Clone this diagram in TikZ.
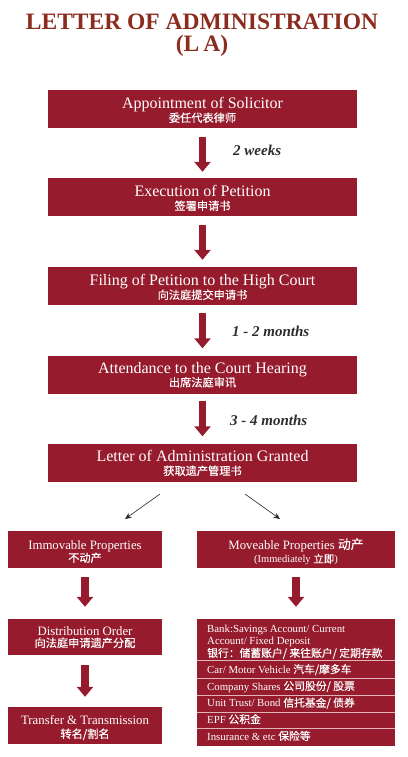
\documentclass[tikz,border=0pt]{standalone}
\usepackage{fontspec}
\setmainfont{Liberation Serif}
\newfontfamily\cjk{Noto Sans CJK SC}[FakeBold=0.4]
\usetikzlibrary{arrows.meta}
\definecolor{laRed}{RGB}{150,27,44}
\definecolor{laSep}{RGB}{225,180,186}
\definecolor{laTitle}{RGB}{139,44,30}
\definecolor{laLabel}{RGB}{45,45,45}
\begin{document}
\begin{tikzpicture}[x=1pt,y=-1pt,
  redbox/.style={fill=laRed, draw=none, inner sep=0pt, minimum width=#1},
  mainbox/.style={redbox=309pt, minimum height=38pt},
  etx/.style={text=white, inner sep=0pt, anchor=base, font=\fontsize{16}{16}\selectfont},
  ctx/.style={text=white, inner sep=0pt, anchor=base, font=\cjk\fontsize{11.2}{11.2}\selectfont},
  setx/.style={text=white, inner sep=0pt, anchor=base, font=\fontsize{12.8}{12.8}\selectfont},
  listtx/.style={text=white, inner sep=0pt, anchor=base west, font=\fontsize{10.8}{10.8}\selectfont},
  durlabel/.style={text=laLabel, inner sep=0pt, anchor=base west, font=\fontsize{15}{15}\selectfont\bfseries\itshape},
  bigarr/.style={draw=laRed, line width=7.5pt, -{Triangle[width=16pt,length=10pt]}},
  thinarr/.style={draw=black!85, line width=0.6pt, -{Stealth[width=5.5pt,length=6.5pt]}},
  sepline/.style={draw=laSep, line width=0.9pt},
  titletx/.style={text=laTitle, inner sep=0pt, anchor=base, font=\fontsize{23.5}{23.5}\selectfont\bfseries}
]
\useasboundingbox (0,0) rectangle (407,757);

% title
\node[titletx] (t1) at (202,30) {LETTER OF ADMINISTRATION};
\node[titletx] (t2) at (202,52) {(L\,A)};

% main boxes
\node[mainbox] (b1) at (202.5,109) {};
\node[mainbox] (b2) at (202.5,197) {};
\node[mainbox] (b3) at (202.5,286) {};
\node[mainbox] (b4) at (202.5,374.5) {};
\node[mainbox] (b5) at (202.5,462.5) {};

\node[etx] (b1e) at (202.5,108.5) {Appointment of Solicitor};
\node[ctx] (b1c) at (202.5,122) {委任代表律师};
\node[etx] (b2e) at (202.5,196) {Execution of Petition};
\node[ctx] (b2c) at (202.5,210) {签署申请书};
\node[etx] (b3e) at (202.5,285.5) {Filing of Petition to the High Court};
\node[ctx] (b3c) at (202.5,299) {向法庭提交申请书};
\node[etx] (b4e) at (202.5,373) {Attendance to the Court Hearing};
\node[ctx] (b4c) at (202.5,386.5) {出席法庭审讯};
\node[etx] (b5e) at (202.5,461) {Letter of Administration Granted};
\node[ctx] (b5c) at (202.5,475) {获取遗产管理书};

% main arrows
\draw[bigarr, shorten <=9pt, shorten >=6pt] (b1) -- (b2);
\draw[bigarr, shorten <=9pt, shorten >=7pt] (b2) -- (b3);
\draw[bigarr, shorten <=8pt, shorten >=7pt] (b3) -- (b4);
\draw[bigarr, shorten <=7pt, shorten >=7pt] (b4) -- (b5);

\node[durlabel] (l1) at (233,155.5) {2 weeks};
\node[durlabel] (l2) at (232,336) {1 - 2 months};
\node[durlabel] (l3) at (230,425.5) {3 - 4 months};

% split arrows
\coordinate (dl1) at (160,494);
\coordinate (dl2) at (125,519);
\coordinate (dr1) at (245,494);
\coordinate (dr2) at (280,519);
\draw[thinarr] (dl1) -- (dl2);
\draw[thinarr] (dr1) -- (dr2);

% lower boxes
\node[redbox=154pt, minimum height=37pt] (L1) at (85,549.5) {};
\node[redbox=198pt, minimum height=37pt] (R1) at (296,549.5) {};
\node[redbox=154pt, minimum height=36pt] (L2) at (85,637) {};
\node[redbox=154pt, minimum height=37pt] (L3) at (85,725.5) {};
\node[redbox=198pt, minimum height=127pt] (R2) at (296,682.5) {};

\node[setx] (L1e) at (85,549.3) {Immovable Properties};
\node[ctx] (L1c) at (85,562) {不动产};
\node[setx] (R1e) at (296,549) {Moveable Properties {\cjk 动产}};
\node[setx, font=\fontsize{10.5}{10.5}\selectfont] (R1s) at (296,562.7) {(Immediately {\cjk 立即})};
\node[setx] (L2e) at (85,635) {Distribution Order};
\node[ctx] (L2c) at (85,647) {向法庭申请遗产分配};
\node[setx] (L3e) at (85,724) {Transfer \& Transmission};
\node[ctx] (L3c) at (85,738) {转名/割名};

% lower arrows
\draw[bigarr, shorten <=9pt, shorten >=12pt] (L1) -- (L2);
\draw[bigarr, shorten <=10pt, shorten >=10pt] (L2) -- (L3);
\draw[bigarr, shorten <=9pt, shorten >=12pt] (R1) -- (R2);

% list separators
\draw[sepline] (R2.west |- 0,660) -- (R2.east |- 0,660);
\draw[sepline] (R2.west |- 0,678) -- (R2.east |- 0,678);
\draw[sepline] (R2.west |- 0,695) -- (R2.east |- 0,695);
\draw[sepline] (R2.west |- 0,712) -- (R2.east |- 0,712);
\draw[sepline] (R2.west |- 0,728) -- (R2.east |- 0,728);

% list text
\node[listtx] (r1a) at (207,632.7) {Bank:Savings Account/ Current};
\node[listtx] (r1b) at (207,644.3) {Account/ Fixed Deposit};
\node[listtx, font=\cjk\fontsize{10.8}{10.8}\selectfont] (r1c) at (207,657) {银行：储蓄账户/ 来往账户/ 定期存款};
\node[listtx] (r2) at (207,673.3) {Car/ Motor Vehicle {\cjk 汽车/摩多车}};
\node[listtx] (r3) at (207,690) {Company Shares {\cjk 公司股份/ 股票}};
\node[listtx] (r4) at (207,706.7) {Unit Trust/ Bond {\cjk 信托基金/ 债券}};
\node[listtx] (r5) at (207,723.3) {EPF {\cjk 公积金}};
\node[listtx] (r6) at (207,740) {Insurance \& etc {\cjk 保险等}};
\end{tikzpicture}
\end{document}
